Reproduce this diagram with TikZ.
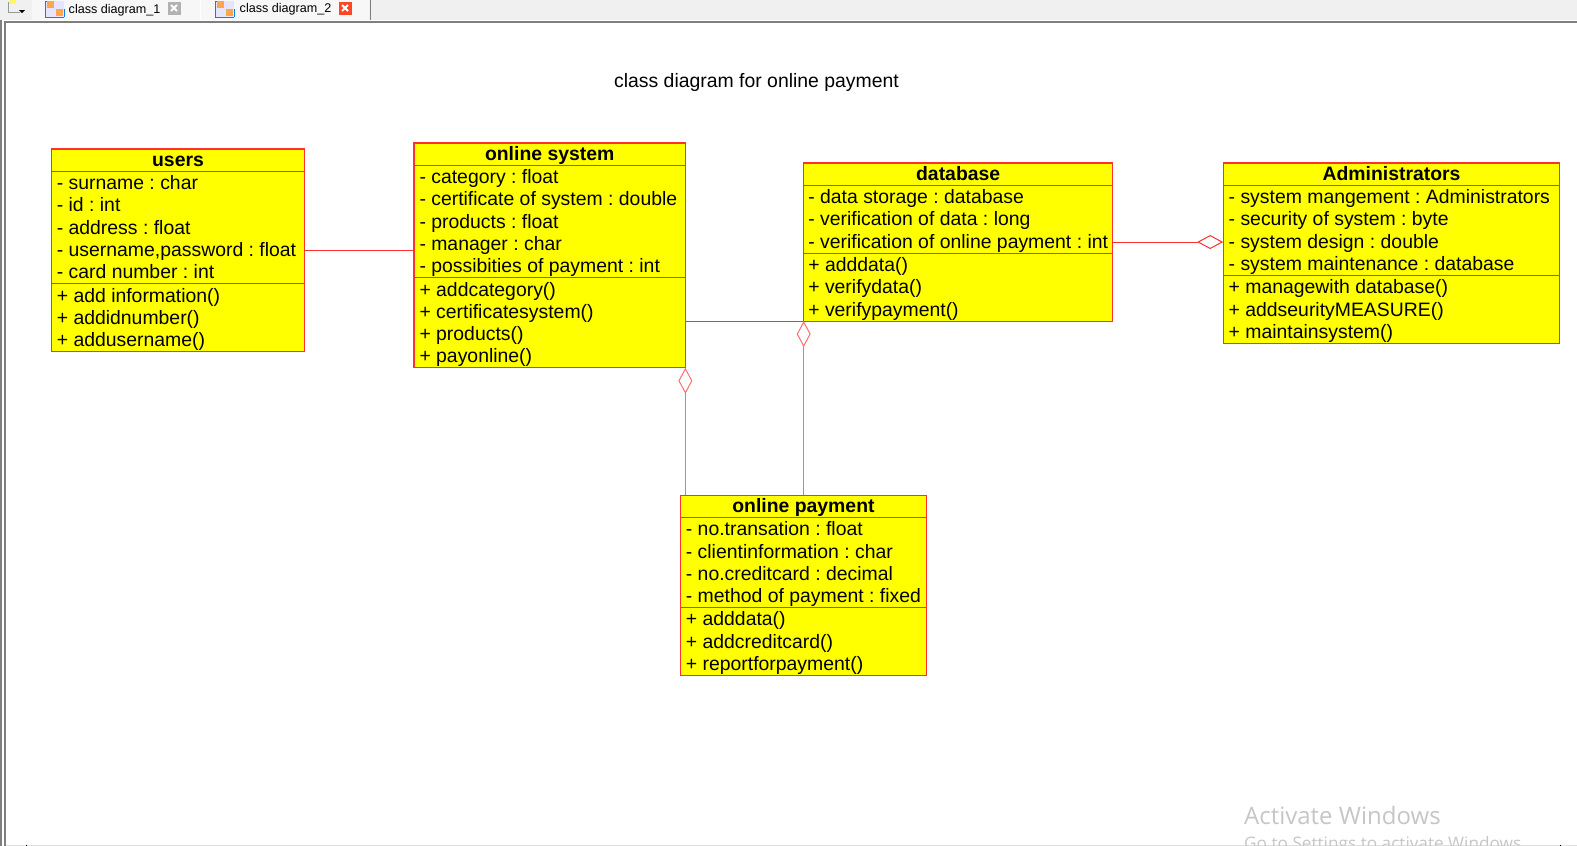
\documentclass[tikz,border=0pt]{standalone}
\usepackage{fontspec}
\setmainfont{Liberation Sans}
\newfontfamily\winfont{Open Sans}
\usepackage{tikz}
\usetikzlibrary{positioning,shapes.multipart,arrows.meta}

\definecolor{umlred}{HTML}{FF3030}
\definecolor{umlyellow}{HTML}{FFFF00}
\definecolor{barcol}{HTML}{F0F0F0}
\definecolor{framecol}{HTML}{7F7F7F}
\definecolor{wincol}{HTML}{C6C6C6}

\tikzset{
	classbox/.style={draw=umlred, fill=umlyellow, line width=1.1pt, rectangle split, rectangle split parts=3,
		rectangle split part align={center,left,left}, align=left, inner xsep=5.5pt, inner ysep=0pt, outer sep=0pt,
		font=\fontsize{19.4}{22.25}\selectfont},
	assoc/.style={draw=umlred, line width=1pt},
	aggr/.style={assoc, {Diamond[open,length=26pt,width=14pt,line width=1pt]}-},
	tabtext/.style={font=\fontsize{12.6}{14}\selectfont, inner sep=0pt, anchor=west},
	wintext/.style={text=wincol, inner sep=0pt, anchor=west, font=\winfont}
}
\newcommand{\rowstrut}{\rule[-4.5pt]{0pt}{22.25pt}}
\newcommand{\headstrut}{\rule[-4.5pt]{0pt}{21.25pt}}
\newcommand{\tabicon}[1]{
	\fill[blue!10] (#1,-1) rectangle ++(19,-16);
	\draw[blue!50!cyan, line width=1pt] (#1,-17) -- ++(0,16) -- ++(5,0) (#1+19,-17) -- ++(0,8) (#1,-17) -- ++(19,0);
	\fill[orange!70] (#1+2,-1) rectangle ++(7,-7);
	\fill[orange!70] (#1+11,-9) rectangle ++(7,-7);
}
\newcommand{\tabclose}[2]{
	\fill[#2] (#1,-1.5) rectangle ++(13,-13);
	\draw[white, line width=2pt] (#1+3.5,-5) -- ++(6,-6) (#1+3.5,-11) -- ++(6,6);
}
\frenchspacing

\begin{document}
\begin{tikzpicture}[x=1pt, y=1pt]
	\useasboundingbox (0,0) rectangle (1577,-846);
	\fill[white] (0,0) rectangle (1577,-846);

	%% WINDOW FRAME
	\fill[barcol] (0,0) rectangle (1577,-20);
	\fill[white!97!black] (32,0) rectangle (369,-20);
	\draw[white, line width=1pt] (200,0) -- (200,-20);
	\draw[framecol, line width=1pt] (370,0) -- (370,-20);
	\draw[framecol, line width=2pt] (5,-22) -- (1577,-22);
	\draw[framecol, line width=2pt] (1,-20) -- (1,-846);
	\draw[framecol, line width=2pt] (5,-21) -- (5,-846);
	\draw[black!12, line width=1pt] (6,-845.5) -- (1577,-845.5);
	\draw[black, line width=1pt] (26,-844.5) -- (26,-846);
	\draw[black, line width=1pt] (1560,-844.5) -- (1560,-846);

	%% TABS
	\fill[yellow!60] (9,0) rectangle ++(7,-4);
	\draw[black!40] (8,-2) -- (8,-12) -- (20,-12);
	\fill[black] (19,-10) -- ++(6,0) -- ++(-3,-3) -- cycle;
	\tabicon{45}
	\tabicon{215}
	\node[tabtext] (tab_one) at (68.5,-10) {class diagram\_1};
	\node[tabtext] (tab_two) at (239.5,-9.5) {class diagram\_2};
	\tabclose{167.5}{black!30}
	\tabclose{338.5}{red!70!orange!85!white}

	%% TITLE
	\node[font=\fontsize{19.4}{22.5}\selectfont, inner sep=0pt] (title) at (756.5,-82) {class diagram for online payment};

	%% CLASSES
	\node[classbox, minimum width=253.4pt, anchor=north west] (users) at (51.3,-149) {
		\textbf{\headstrut users}
		\nodepart{two}\rowstrut- surname : char\\\rowstrut- id : int\\\rowstrut- address : float\\\rowstrut- username,password : float\\\rowstrut- card number : int
		\nodepart{three}\rowstrut+ add information()\\\rowstrut+ addidnumber()\\\rowstrut+ addusername()
	};
	\node[classbox, minimum width=271.4pt, below right=-6pt and 109.3pt of users.north east] (system) {
		\textbf{\headstrut online system}
		\nodepart{two}\rowstrut- category : float\\\rowstrut- certificate of system : double\\\rowstrut- products : float\\\rowstrut- manager : char\\\rowstrut- possibities of payment : int
		\nodepart{three}\rowstrut+ addcategory()\\\rowstrut+ certificatesystem()\\\rowstrut+ products()\\\rowstrut+ payonline()
	};
	\node[classbox, inner xsep=4.6pt, minimum width=308pt, below right=20pt and 118.3pt of system.north east] (database) {
		\textbf{\headstrut database}
		\nodepart{two}\rowstrut- data storage : database\\\rowstrut- verification of data : long\\\rowstrut- verification of online payment : int
		\nodepart{three}\rowstrut+ adddata()\\\rowstrut+ verifydata()\\\rowstrut+ verifypayment()
	};
	\node[classbox, minimum width=336.7pt, below right=0pt and 110.5pt of database.north east] (admin) {
		\textbf{\headstrut Administrators}
		\nodepart{two}\rowstrut- system mangement : Administrators\\\rowstrut- security of system : byte\\\rowstrut- system design : double\\\rowstrut- system maintenance : database
		\nodepart{three}\rowstrut+ managewith database()\\\rowstrut+ addseurityMEASURE()\\\rowstrut+ maintainsystem()
	};
	\node[classbox, minimum width=245.8pt, below right=127.4pt and -5pt of system.south east] (payment) {
		\textbf{\headstrut online payment}
		\nodepart{two}\rowstrut- no.transation : float\\\rowstrut- clientinformation : char\\\rowstrut- no.creditcard : decimal\\\rowstrut- method of payment : fixed
		\nodepart{three}\rowstrut+ adddata()\\\rowstrut+ addcreditcard()\\\rowstrut+ reportforpayment()
	};

	%% CONNECTORS
	\draw[assoc] (users.east) -- (users.east -| system.west);
	\draw[assoc] (system.east |- database.south west) -- (database.south west);
	\draw[aggr] (admin.west |- database.east) -- (database.east);
	\draw[aggr, draw=umlred!70, line width=1.4pt] (system.south east) -- (payment.north -| system.south east);
	\draw[aggr, draw=umlred!70, line width=1.4pt] (database.south west) -- (payment.north -| database.south west);

	%% WATERMARK
	\begin{scope}
		\clip (0,0) rectangle (1577,-845);
		\node[wintext, font=\winfont\fontsize{24}{28}\selectfont] (win_one) at (1244,-815) {Activate Windows};
		\node[wintext, font=\winfont\fontsize{17.2}{20}\selectfont] (win_two) at (1244,-845) {Go to Settings to activate Windows.};
	\end{scope}
\end{tikzpicture}
\end{document}
